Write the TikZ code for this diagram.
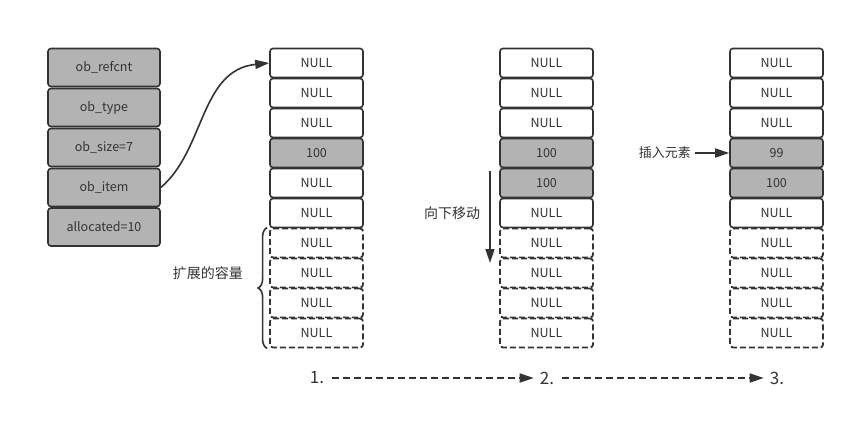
\documentclass[tikz,border=0pt]{standalone}
\usepackage{fontspec}
\setmainfont{Noto Sans CJK SC}
\usetikzlibrary{arrows.meta,decorations.pathreplacing}
\definecolor{ink}{HTML}{333333}
\definecolor{cellgray}{HTML}{B3B3B3}
\begin{document}
\begin{tikzpicture}[x=1pt,y=-1pt,
  font=\fontsize{12.5}{14}\selectfont,
  hdr/.style={draw=ink,line width=1.6pt,rounded corners=3pt,fill=cellgray,minimum width=112pt,minimum height=38pt,inner sep=0pt,text=ink},
  cell/.style={draw=ink,line width=1.6pt,rounded corners=3pt,fill=white,minimum width=93pt,minimum height=29pt,inner sep=0pt,text=ink},
  full/.style={cell,fill=cellgray},
  spare/.style={cell,line width=1.8pt,dash pattern=on 6pt off 3pt},
  conn/.style={draw=ink,line width=1.6pt,-{Triangle[length=14pt,width=9pt]}},
  dconn/.style={conn,dash pattern=on 7pt off 4pt},
  lbl/.style={text=ink,inner sep=0pt,font=\fontsize{14}{16}\selectfont}]
\useasboundingbox (0,0) rectangle (856,421);
% header struct
\node[hdr] (h1) at (104,67.5) {ob\_refcnt};
\node[hdr] (h2) at (104,107.5) {ob\_type};
\node[hdr] (h3) at (104,147.5) {ob\_size=7};
\node[hdr] (h4) at (104,187.5) {ob\_item};
\node[hdr] (h5) at (104,227) {allocated=10};
% column 1
\node[cell] (a1) at (316.5,63) {NULL};
\node[cell] (a2) at (316.5,93) {NULL};
\node[cell] (a3) at (316.5,123) {NULL};
\node[full] (a4) at (316.5,153) {100};
\node[cell] (a5) at (316.5,183) {NULL};
\node[cell] (a6) at (316.5,213) {NULL};
\node[spare] (a7) at (316.5,243) {NULL};
\node[spare] (a8) at (316.5,273) {NULL};
\node[spare] (a9) at (316.5,303) {NULL};
\node[spare] (a10) at (316.5,333) {NULL};
% column 2
\node[cell] (b1) at (546.5,63) {NULL};
\node[cell] (b2) at (546.5,93) {NULL};
\node[cell] (b3) at (546.5,123) {NULL};
\node[full] (b4) at (546.5,153) {100};
\node[full] (b5) at (546.5,183) {100};
\node[cell] (b6) at (546.5,213) {NULL};
\node[spare] (b7) at (546.5,243) {NULL};
\node[spare] (b8) at (546.5,273) {NULL};
\node[spare] (b9) at (546.5,303) {NULL};
\node[spare] (b10) at (546.5,333) {NULL};
% column 3
\node[cell] (c1) at (776.5,63) {NULL};
\node[cell] (c2) at (776.5,93) {NULL};
\node[cell] (c3) at (776.5,123) {NULL};
\node[full] (c4) at (776.5,153) {99};
\node[full] (c5) at (776.5,183) {100};
\node[cell] (c6) at (776.5,213) {NULL};
\node[spare] (c7) at (776.5,243) {NULL};
\node[spare] (c8) at (776.5,273) {NULL};
\node[spare] (c9) at (776.5,303) {NULL};
\node[spare] (c10) at (776.5,333) {NULL};
% pointer
\draw[conn] (h4.east) .. controls (205,150) and (200,70) .. (a1.west);
% brace
\draw[draw=ink,line width=1.6pt,decorate,decoration={brace,amplitude=9pt,mirror,raise=2pt}] (a7.north west) -- (a10.south west);
\node[lbl,anchor=east] (t1) at (243,273) {扩展的容量};
% move down
\node[lbl] (t2) at (452,213) {向下移动};
\coordinate (m1) at (490,171);
\coordinate (m2) at (490,263);
\draw[conn] (m1) -- (m2);
% insert
\node[lbl,anchor=east,font=\fontsize{13}{15}\selectfont] (t3) at (691,153) {插入元素};
\draw[conn] (t3.east) ++(4,0) coordinate (i0) (i0) -- (c4.west);
% steps
\node[lbl,font=\fontsize{17}{20}\selectfont] (s1) at (317,378) {1.};
\node[lbl,font=\fontsize{17}{20}\selectfont] (s2) at (547,378) {2.};
\node[lbl,font=\fontsize{17}{20}\selectfont] (s3) at (777,378) {3.};
\draw[dconn] ([xshift=8pt]s1.east) -- ([xshift=-6pt]s2.west);
\draw[dconn] ([xshift=8pt]s2.east) -- ([xshift=-6pt]s3.west);
\end{tikzpicture}
\end{document}
